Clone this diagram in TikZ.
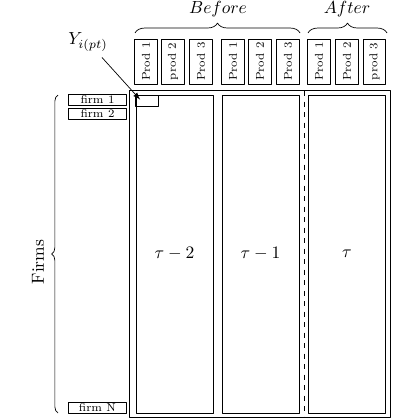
\documentclass[tikz,border=0pt]{standalone}
\usepackage{amsmath}
\usepackage{amssymb}
\usetikzlibrary{arrows.meta}
\usetikzlibrary{shapes, decorations.pathreplacing}

\begin{document}
\begin{tikzpicture}[>=latex,line join=bevel,x=0.5714pt,y=-0.5714pt,line width=0.55pt,
  prodbox/.style={draw,rotate=90,inner sep=0.5pt,minimum width=25.7pt,minimum height=12.6pt,font=\fontsize{6.5}{7}\selectfont},
  firmbox/.style={draw,inner sep=0.5pt,minimum width=32.6pt,minimum height=6.3pt,font=\fontsize{6.5}{7}\selectfont},
  colbox/.style={draw,minimum width=44pt,minimum height=181.7pt},
  bracelink/.style={decorate,decoration={brace,amplitude=5.7pt}},
]
\useasboundingbox (0,0) rectangle (420,420);
%%
\node (panel) at (260,254) [draw,minimum width=148.6pt,minimum height=186.3pt] {};
  \node (col_tm2) at (174.5,254) [colbox] {$\tau-2$};
  \node (col_tm1) at (260.5,254) [colbox] {$\tau-1$};
  \node (col_t) at (347,254) [colbox] {$\tau$};
  \node (cell) at (147,100.5) [draw,minimum width=12.6pt,minimum height=6.3pt,inner sep=0pt] {};
  \coordinate (dash_top) at (304,91);
  \coordinate (dash_bot) at (304,417);
  \draw [dashed] (dash_top) -- (dash_bot);
%
\node (prod_b1) at (146,61.5) [prodbox] {Prod 1};
  \node (prod_b2) at (173,61.5) [prodbox] {prod 2};
  \node (prod_b3) at (201,61.5) [prodbox] {Prod 3};
  \node (prod_c1) at (233,61.5) [prodbox] {Prod 1};
  \node (prod_c2) at (260,61.5) [prodbox] {Prod 2};
  \node (prod_c3) at (288,61.5) [prodbox] {Prod 3};
  \node (prod_a1) at (319,61.5) [prodbox] {Prod 1};
  \node (prod_a2) at (347,61.5) [prodbox] {Prod 2};
  \node (prod_a3) at (374.5,61.5) [prodbox] {prod 3};
%
\node (firm_1) at (97.5,99.5) [firmbox] {firm 1};
  \node (firm_2) at (97.5,113.5) [firmbox] {firm 2};
  \node (firm_N) at (97.5,407.5) [firmbox] {firm N};
%
\coordinate (before_l) at (135,33);
  \coordinate (before_r) at (300,33);
  \coordinate (after_l) at (308,33);
  \coordinate (after_r) at (387,33);
  \coordinate (firms_b) at (58,413);
  \coordinate (firms_t) at (58,95);
  \draw [thin,bracelink] (before_l) -- (before_r);
  \draw [thin,bracelink] (after_l) -- (after_r);
  \draw [thin,decorate,decoration={brace,amplitude=3.6pt}] (firms_b) -- (firms_t);
  \node (before) at (218,9) {$Before$};
  \node (after) at (347,9) {$After$};
  \node (firms) at (38,262) [rotate=90] {Firms};
%
\node (ylab) at (88,42) {$Y_{i(pt)}$};
  \coordinate (cell_tip) at (140,99.5);
  \draw [thin,->] (ylab) -- (cell_tip);
%
\end{tikzpicture}
\end{document}
